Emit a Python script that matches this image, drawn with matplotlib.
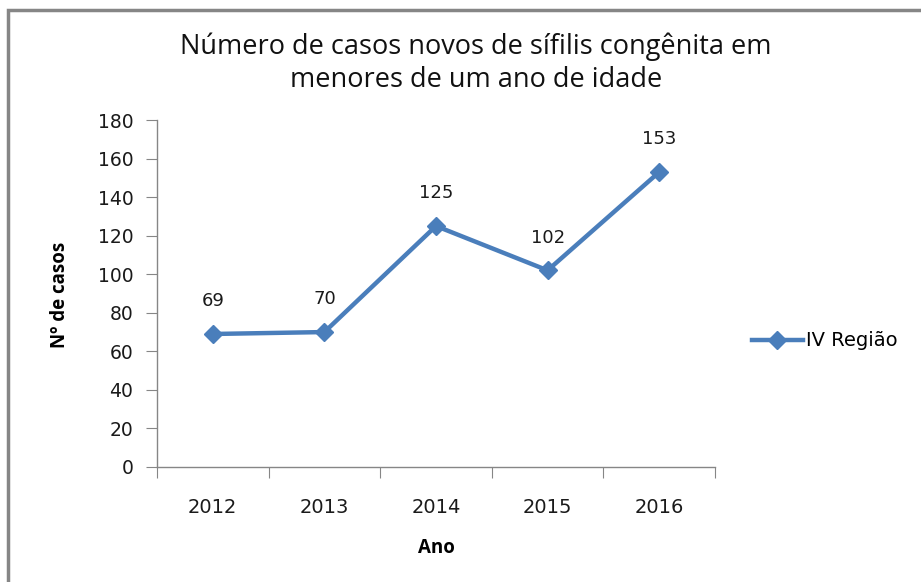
import matplotlib
matplotlib.use("Agg")
import matplotlib.pyplot as plt
from matplotlib.patches import Rectangle

years = ["2012", "2013", "2014", "2015", "2016"]
cases = [69, 70, 125, 102, 153]
series_name = "IV Região"
title = "Número de casos novos de sífilis congênita em\nmenores de um ano de idade"
xlabel = "Ano"
ylabel = "Nº de casos"

W, H = 921, 582
fig = plt.figure(figsize=(W/100, H/100), dpi=100)
ax = fig.add_axes([157/W, 1-467/H, (715-157)/W, (467-120)/H])

color = "#4A7EBB"
x = list(range(len(years)))
ax.plot(x, cases, color=color, lw=3.2, marker="D", markersize=9.5, label=series_name)
for xi, v in zip(x, cases):
    ax.annotate(str(v), (xi, v), xytext=(0, 17), textcoords="offset points",
                ha="center", va="bottom", fontsize=13, family="DejaVu Sans", color="#1a1a1a")

ax.set_xlim(-0.5, len(years)-0.5)
ax.set_ylim(0, 180)
ax.set_yticks(range(0, 181, 20))
ax.set_xticks([i - 0.5 for i in range(len(years)+1)], minor=False)
ax.set_xticklabels([])
ax.set_xticks(x, minor=True)
ax.set_xticklabels(years, minor=True)
ax.tick_params(axis="x", which="major", length=8, direction="out", color="#868686")
ax.tick_params(axis="x", which="minor", length=0, pad=22, labelsize=14, labelcolor="#1a1a1a")
ax.tick_params(axis="y", length=8, direction="out", color="#868686", labelsize=13.5, pad=9, labelcolor="#1a1a1a")
for lbl in ax.get_xticklabels(minor=True) + ax.get_yticklabels():
    lbl.set_family("DejaVu Sans")
for s in ["top", "right"]:
    ax.spines[s].set_visible(False)
for s in ["left", "bottom"]:
    ax.spines[s].set_color("#868686")
    ax.spines[s].set_linewidth(1)

fig.text(436/W, 1-548/H, xlabel, ha="center", va="center", fontsize=13.5, fontweight="bold", family="Open Sans")
fig.text(60/W, 1-295/H, ylabel, ha="center", va="center", rotation=90, fontsize=13.5, fontweight="bold", family="Open Sans")
fig.text(476/W, 1-63/H, title, ha="center", va="center", fontsize=19.5, family="Open Sans", linespacing=1.25, color="#111111")

axw = 715 - 157
ax.legend(loc="center left", bbox_to_anchor=((752-157)/axw, (467-341)/(467-120)),
          frameon=False, prop={"family": "DejaVu Sans", "size": 14},
          handlelength=2.6, handletextpad=0.2, borderaxespad=0, borderpad=0)

fig.add_artist(Rectangle((8/W, -0.1), 2.0, 1 - 10/H + 0.1, transform=fig.transFigure,
                         fill=False, edgecolor="#868686", lw=2.5))

fig.savefig("out.png", dpi=100)
